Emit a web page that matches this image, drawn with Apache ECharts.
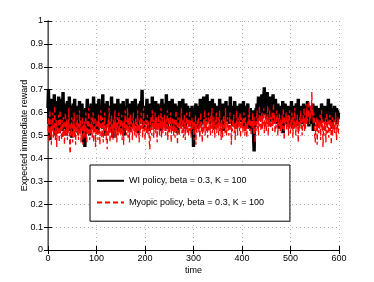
<!DOCTYPE html>
<html><head><meta charset="utf-8">
<script src="https://cdn.jsdelivr.net/npm/echarts@6/dist/echarts.min.js"></script>
<style>html,body{margin:0;padding:0;background:#fff}#c{width:374px;height:282px}</style>
</head><body><div id="c"></div>
<script>
const xTicks = [0,100,200,300,400,500,600];
const yTicks = [0,0.1,0.2,0.3,0.4,0.5,0.6,0.7,0.8,0.9,1];
const seriesNames = ['WI policy, beta = 0.3, K = 100','Myopic policy, beta = 0.3, K = 100'];
const wiValues = [
0.62,0.70,0.55,0.60,0.48,0.58,0.66,0.52,0.61,0.57,
0.64,0.53,0.59,0.68,0.56,0.50,0.62,0.58,0.65,0.54,
0.60,0.57,0.67,0.51,0.63,0.59,0.55,0.66,0.60,0.52,
0.58,0.69,0.56,0.62,0.53,0.64,0.57,0.61,0.50,0.59,
0.65,0.55,0.62,0.58,0.67,0.52,0.60,0.56,0.63,0.49,
0.61,0.57,0.64,0.54,0.59,0.66,0.53,0.62,0.58,0.60,
0.55,0.63,0.51,0.60,0.57,0.65,0.59,0.52,0.62,0.56,
0.64,0.58,0.61,0.47,0.55,0.60,0.45,0.57,0.62,0.53,
0.59,0.66,0.54,0.61,0.57,0.63,0.50,0.60,0.56,0.64,
0.58,0.53,0.62,0.57,0.67,0.55,0.60,0.52,0.63,0.59,
0.56,0.64,0.58,0.51,0.61,0.66,0.57,0.62,0.54,0.60,
0.63,0.55,0.59,0.68,0.53,0.61,0.57,0.64,0.50,0.58,
0.62,0.57,0.65,0.54,0.60,0.56,0.63,0.59,0.52,0.61,
0.55,0.67,0.58,0.62,0.49,0.60,0.56,0.64,0.59,0.53,
0.61,0.57,0.63,0.55,0.66,0.58,0.52,0.62,0.57,0.60,
0.64,0.53,0.59,0.61,0.56,0.65,0.58,0.50,0.62,0.57,
0.59,0.63,0.54,0.66,0.58,0.61,0.55,0.60,0.64,0.52,
0.57,0.62,0.60,0.53,0.65,0.58,0.63,0.56,0.61,0.59,
0.66,0.54,0.61,0.58,0.63,0.51,0.60,0.57,0.64,0.55,
0.60,0.65,0.57,0.62,0.70,0.56,0.61,0.53,0.59,0.63,
0.58,0.62,0.55,0.60,0.66,0.57,0.63,0.59,0.52,0.61,
0.56,0.64,0.59,0.62,0.54,0.67,0.58,0.61,0.57,0.63,
0.60,0.53,0.65,0.58,0.62,0.56,0.60,0.64,0.55,0.61,
0.57,0.63,0.59,0.52,0.61,0.66,0.58,0.62,0.56,0.60,
0.64,0.57,0.61,0.55,0.68,0.59,0.53,0.62,0.58,0.65,
0.56,0.60,0.63,0.57,0.61,0.54,0.66,0.59,0.62,0.52,
0.61,0.58,0.64,0.56,0.60,0.63,0.57,0.51,0.62,0.59,
0.55,0.65,0.58,0.61,0.57,0.63,0.54,0.60,0.66,0.58,
0.62,0.56,0.60,0.53,0.64,0.59,0.61,0.57,0.63,0.55,
0.60,0.57,0.62,0.58,0.54,0.61,0.56,0.63,0.50,0.59,
0.45,0.58,0.62,0.55,0.60,0.64,0.57,0.61,0.53,0.59,
0.63,0.56,0.60,0.58,0.66,0.54,0.61,0.57,0.62,0.59,
0.55,0.67,0.59,0.62,0.57,0.64,0.60,0.56,0.68,0.58,
0.61,0.57,0.65,0.59,0.63,0.55,0.62,0.58,0.60,0.66,
0.57,0.62,0.56,0.64,0.59,0.61,0.53,0.60,0.58,0.63,
0.60,0.55,0.62,0.58,0.66,0.57,0.61,0.54,0.63,0.59,
0.64,0.58,0.52,0.61,0.57,0.62,0.59,0.65,0.56,0.60,
0.58,0.63,0.57,0.61,0.55,0.60,0.67,0.58,0.62,0.56,
0.61,0.54,0.60,0.63,0.58,0.65,0.57,0.61,0.53,0.59,
0.63,0.57,0.60,0.55,0.62,0.58,0.64,0.56,0.61,0.59,
0.56,0.62,0.58,0.65,0.54,0.60,0.57,0.63,0.59,0.61,
0.55,0.60,0.64,0.57,0.61,0.53,0.58,0.62,0.56,0.60,
0.52,0.58,0.55,0.61,0.49,0.43,0.57,0.60,0.54,0.62,
0.58,0.64,0.56,0.61,0.67,0.59,0.63,0.57,0.65,0.60,
0.62,0.68,0.58,0.64,0.60,0.66,0.71,0.61,0.65,0.59,
0.63,0.57,0.69,0.61,0.64,0.58,0.62,0.67,0.56,0.60,
0.65,0.59,0.62,0.56,0.68,0.60,0.63,0.57,0.61,0.66,
0.58,0.62,0.55,0.60,0.64,0.57,0.61,0.53,0.59,0.63,
0.60,0.56,0.62,0.58,0.65,0.51,0.59,0.61,0.57,0.64,
0.58,0.62,0.55,0.60,0.57,0.63,0.59,0.54,0.61,0.57,
0.62,0.58,0.65,0.56,0.60,0.53,0.61,0.57,0.63,0.59,
0.55,0.60,0.64,0.57,0.61,0.58,0.66,0.54,0.60,0.62,
0.57,0.63,0.59,0.61,0.55,0.62,0.58,0.64,0.56,0.60,
0.61,0.56,0.63,0.58,0.60,0.65,0.57,0.62,0.54,0.59,
0.63,0.57,0.61,0.55,0.60,0.58,0.64,0.52,0.59,0.62,
0.56,0.61,0.58,0.63,0.57,0.60,0.54,0.62,0.59,0.61,
0.60,0.55,0.62,0.57,0.64,0.59,0.61,0.56,0.63,0.58,
0.62,0.58,0.55,0.61,0.57,0.63,0.60,0.56,0.66,0.59,
0.57,0.61,0.58,0.64,0.56,0.60,0.53,0.62,0.58,0.61,
0.59,0.63,0.56,0.60,0.58,0.62,0.55,0.61,0.57,0.60
];
const myopicValues = [
0.52,0.58,0.47,0.55,0.61,0.50,0.54,0.46,0.57,0.52,
0.60,0.49,0.55,0.51,0.63,0.48,0.53,0.57,0.45,0.54,
0.50,0.56,0.59,0.47,0.53,0.61,0.51,0.55,0.48,0.57,
0.54,0.49,0.58,0.52,0.46,0.55,0.60,0.50,0.53,0.57,
0.48,0.56,0.51,0.62,0.53,0.44,0.42,0.55,0.50,0.58,
0.53,0.47,0.57,0.51,0.60,0.49,0.54,0.46,0.56,0.52,
0.59,0.50,0.55,0.48,0.53,0.61,0.51,0.57,0.47,0.54,
0.52,0.58,0.46,0.55,0.50,0.56,0.49,0.53,0.60,0.51,
0.47,0.54,0.57,0.50,0.62,0.52,0.48,0.55,0.51,0.58,
0.53,0.49,0.56,0.60,0.47,0.54,0.51,0.58,0.45,0.55,
0.50,0.57,0.52,0.48,0.59,0.53,0.56,0.46,0.54,0.61,
0.55,0.49,0.58,0.51,0.47,0.56,0.52,0.60,0.50,0.54,
0.48,0.55,0.44,0.53,0.57,0.50,0.62,0.52,0.47,0.56,
0.53,0.59,0.50,0.55,0.48,0.57,0.51,0.54,0.61,0.49,
0.56,0.52,0.47,0.58,0.53,0.50,0.60,0.55,0.51,0.57,
0.50,0.54,0.59,0.48,0.56,0.52,0.46,0.57,0.53,0.61,
0.52,0.57,0.50,0.55,0.62,0.49,0.54,0.58,0.47,0.55,
0.59,0.51,0.56,0.53,0.48,0.57,0.60,0.52,0.55,0.50,
0.54,0.58,0.49,0.56,0.52,0.61,0.50,0.55,0.47,0.57,
0.51,0.55,0.60,0.53,0.57,0.49,0.54,0.62,0.52,0.56,
0.48,0.53,0.57,0.51,0.55,0.59,0.50,0.56,0.53,0.47,
0.44,0.52,0.58,0.55,0.50,0.61,0.54,0.57,0.49,0.56,
0.53,0.60,0.51,0.55,0.58,0.47,0.56,0.52,0.59,0.54,
0.50,0.57,0.53,0.62,0.49,0.55,0.58,0.51,0.56,0.53,
0.59,0.52,0.56,0.50,0.57,0.54,0.61,0.48,0.55,0.58,
0.51,0.56,0.53,0.60,0.47,0.55,0.52,0.58,0.54,0.50,
0.57,0.53,0.49,0.56,0.61,0.52,0.55,0.46,0.58,0.53,
0.55,0.50,0.58,0.53,0.56,0.62,0.51,0.54,0.57,0.49,
0.52,0.59,0.54,0.48,0.56,0.53,0.60,0.51,0.55,0.57,
0.50,0.55,0.61,0.52,0.57,0.49,0.54,0.58,0.53,0.56,
0.53,0.48,0.56,0.52,0.59,0.46,0.55,0.51,0.57,0.54,
0.58,0.51,0.55,0.49,0.53,0.60,0.52,0.56,0.47,0.54,
0.51,0.57,0.53,0.61,0.50,0.55,0.58,0.52,0.56,0.49,
0.55,0.60,0.52,0.57,0.54,0.50,0.59,0.53,0.62,0.51,
0.56,0.52,0.58,0.54,0.49,0.57,0.53,0.60,0.51,0.55,
0.53,0.58,0.50,0.56,0.61,0.52,0.55,0.48,0.57,0.54,
0.49,0.55,0.59,0.53,0.57,0.51,0.62,0.54,0.50,0.56,
0.58,0.52,0.55,0.50,0.56,0.60,0.53,0.57,0.46,0.54,
0.52,0.57,0.54,0.59,0.51,0.55,0.48,0.56,0.53,0.61,
0.55,0.50,0.58,0.53,0.57,0.52,0.60,0.49,0.55,0.58,
0.53,0.57,0.51,0.56,0.60,0.54,0.50,0.58,0.52,0.55,
0.49,0.56,0.53,0.59,0.55,0.62,0.52,0.57,0.54,0.50,
0.57,0.53,0.60,0.55,0.51,0.58,0.54,0.47,0.56,0.52,
0.55,0.61,0.53,0.58,0.50,0.56,0.63,0.54,0.59,0.52,
0.56,0.60,0.53,0.58,0.55,0.62,0.51,0.57,0.54,0.60,
0.52,0.58,0.55,0.63,0.50,0.57,0.54,0.61,0.56,0.53,
0.58,0.54,0.60,0.52,0.57,0.64,0.55,0.59,0.51,0.56,
0.53,0.57,0.61,0.55,0.50,0.58,0.54,0.60,0.56,0.52,
0.57,0.51,0.55,0.59,0.53,0.62,0.56,0.48,0.58,0.54,
0.55,0.60,0.52,0.57,0.54,0.59,0.50,0.56,0.61,0.53,
0.51,0.57,0.54,0.60,0.55,0.49,0.58,0.53,0.56,0.62,
0.54,0.50,0.57,0.53,0.59,0.55,0.47,0.56,0.52,0.58,
0.55,0.61,0.53,0.57,0.50,0.56,0.59,0.54,0.62,0.52,
0.57,0.53,0.60,0.55,0.64,0.56,0.61,0.58,0.65,0.55,
0.60,0.57,0.63,0.59,0.69,0.58,0.62,0.55,0.60,0.57,
0.50,0.47,0.55,0.52,0.58,0.46,0.54,0.57,0.51,0.56,
0.53,0.59,0.48,0.55,0.61,0.52,0.57,0.45,0.54,0.50,
0.56,0.52,0.58,0.47,0.55,0.60,0.51,0.57,0.53,0.49,
0.55,0.59,0.52,0.57,0.46,0.54,0.58,0.50,0.56,0.53,
0.57,0.51,0.55,0.60,0.52,0.48,0.56,0.53,0.58,0.50
];
const toPairs = arr => arr.map((v, i) => [i, v]);
const font = 'Liberation Sans, Arial, sans-serif';
const chart = echarts.init(document.getElementById('c'), null, {renderer: 'canvas'});
const axisCommon = {
  axisLine: {show: true, lineStyle: {color: '#000', width: 1}},
  axisTick: {show: true, inside: true, length: 4, lineStyle: {color: '#000'}},
};
chart.setOption({
  animation: false,
  backgroundColor: '#fff',
  grid: {left: 48, right: 35, top: 21, bottom: 32, containLabel: false, outerBoundsMode: 'none'},
  legend: {
    orient: 'vertical', left: 90, top: 165,
    padding: [11, 26, 14, 6], itemGap: 12, itemWidth: 27, itemHeight: 12,
    borderColor: '#000', borderWidth: 1, backgroundColor: '#fff',
    itemStyle: {opacity: 0},
    textStyle: {fontFamily: font, fontSize: 9, color: '#000'},
    data: seriesNames
  },
  xAxis: [{
    type: 'value', min: 0, max: 600, interval: 100,
    name: 'time', nameLocation: 'middle', nameGap: 16, nameMoveOverlap: false,
    nameTextStyle: {fontFamily: font, fontSize: 9, color: '#000'},
    axisLabel: {fontFamily: font, fontSize: 9, color: '#000', margin: 4},
    splitLine: {show: true, lineStyle: {color: '#b0b0b0', type: [1, 3], width: 1}},
    ...axisCommon
  }, {
    type: 'value', position: 'top', min: 0, max: 600, interval: 100,
    axisLabel: {show: false}, splitLine: {show: false},
    ...axisCommon
  }],
  yAxis: [{
    type: 'value', min: 0, max: 1, interval: 0.1,
    name: 'Expected immediate reward', nameLocation: 'middle', nameGap: 19, nameMoveOverlap: false,
    nameTextStyle: {fontFamily: font, fontSize: 9, color: '#000'},
    axisLabel: {fontFamily: font, fontSize: 9, color: '#000', margin: 5},
    splitLine: {show: true, lineStyle: {color: '#b0b0b0', type: [1, 3], width: 1}},
    ...axisCommon
  }, {
    type: 'value', position: 'right', min: 0, max: 1, interval: 0.1,
    axisLabel: {show: false}, splitLine: {show: false},
    ...axisCommon,
    axisLine: {show: true, lineStyle: {color: '#777', width: 1.5}}
  }],
  series: [{
    name: seriesNames[0], type: 'line', data: toPairs(wiValues),
    showSymbol: false, symbol: 'none', color: '#000',
    lineStyle: {color: '#000', width: 3.4}
  }, {
    name: seriesNames[1], type: 'line', data: toPairs(myopicValues),
    showSymbol: false, symbol: 'none', color: '#ff0000',
    lineStyle: {color: '#ff0000', width: 1.3, type: [5, 3]}
  }]
});
</script></body></html>
